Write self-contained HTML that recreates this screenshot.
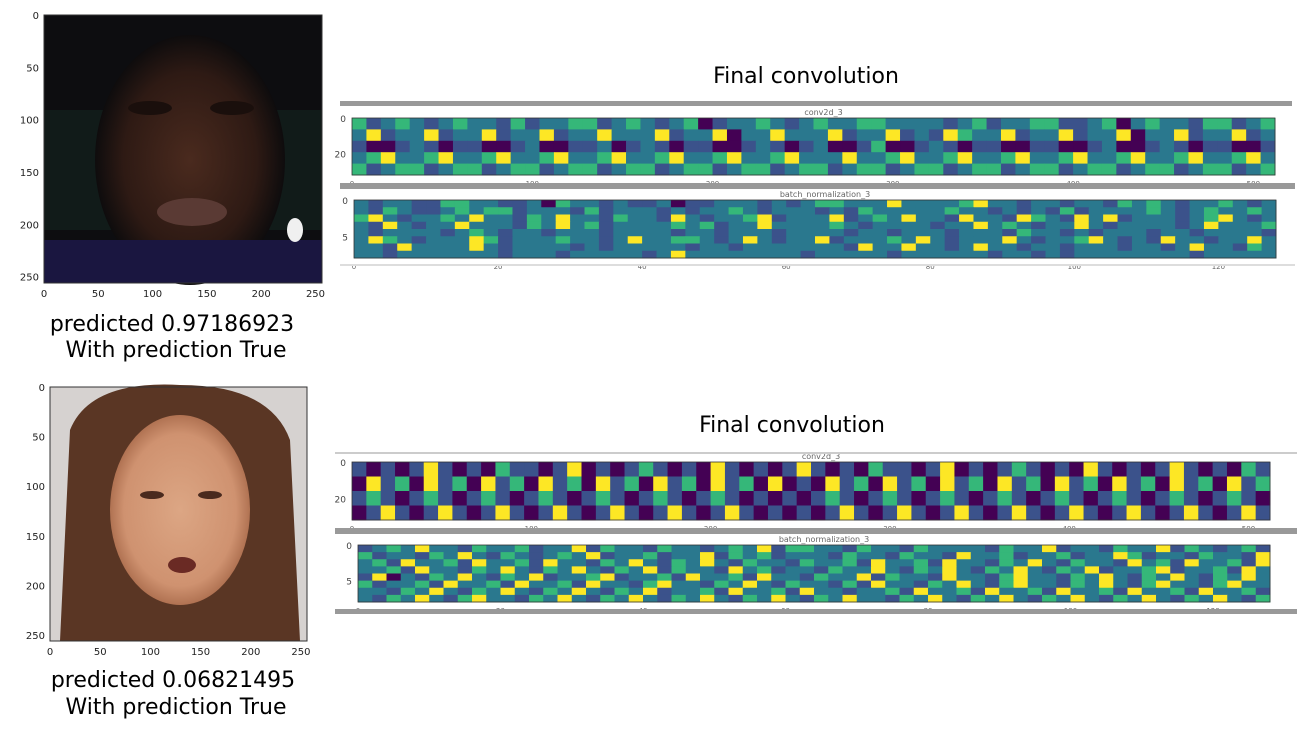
<!DOCTYPE html>
<html><head><meta charset="utf-8"><style>
body{margin:0;background:#fff;width:1312px;height:744px;overflow:hidden;font-family:"Liberation Sans","DejaVu Sans",sans-serif}
svg text{font-family:"DejaVu Sans","Liberation Sans",sans-serif}
</style></head><body>
<svg id="s" width="1312" height="744">
<defs>
<radialGradient id="f1" cx="0.5" cy="0.5" r="0.5"><stop offset="0" stop-color="#4a2a1e"/><stop offset="0.7" stop-color="#2e1a14"/><stop offset="1" stop-color="#0e0c0d"/></radialGradient>
<radialGradient id="f2" cx="0.5" cy="0.5" r="0.5"><stop offset="0" stop-color="#dca684"/><stop offset="0.8" stop-color="#cf9270"/><stop offset="1" stop-color="#b07252"/></radialGradient>
</defs>
<g>
<rect x="44" y="15" width="278" height="268" fill="#0d0d10"/>
<rect x="44" y="110" width="278" height="120" fill="#142420" opacity="0.6"/>
<ellipse cx="190" cy="160" rx="95" ry="125" fill="url(#f1)"/>
<rect x="44" y="240" width="278" height="43" fill="#1a1640"/>
<ellipse cx="150" cy="108" rx="22" ry="7" fill="#1a0f0c"/><ellipse cx="232" cy="108" rx="22" ry="7" fill="#1a0f0c"/>
<ellipse cx="192" cy="212" rx="35" ry="14" fill="#5a3a34"/>
<ellipse cx="295" cy="230" rx="8" ry="12" fill="#f0f0f0"/>
</g>
<rect x="44" y="15" width="278" height="268" fill="none" stroke="#333" stroke-width="1"/>
<g>
<rect x="50" y="387" width="257" height="254" fill="#d6d2d0"/>
<path d="M60 641 L70 430 Q90 380 180 385 Q270 385 290 440 L300 641 Z" fill="#5a3624"/>
<ellipse cx="180" cy="510" rx="70" ry="95" fill="url(#f2)"/>
<ellipse cx="152" cy="495" rx="12" ry="4" fill="#4a2a1e"/><ellipse cx="210" cy="495" rx="12" ry="4" fill="#4a2a1e"/>
<ellipse cx="182" cy="565" rx="14" ry="8" fill="#6a2a24"/>
</g>
<rect x="50" y="387" width="257" height="254" fill="none" stroke="#333" stroke-width="1"/>
<g id="ticks" font-size="10" fill="#222"></g>
<text x="172" y="331" font-size="22" text-anchor="middle">predicted 0.97186923</text>
<text x="176" y="357" font-size="22" text-anchor="middle">With prediction True</text>
<text x="173" y="687" font-size="22" text-anchor="middle">predicted 0.06821495</text>
<text x="176" y="714" font-size="22" text-anchor="middle">With prediction True</text>
<text x="806" y="83" font-size="22" text-anchor="middle">Final convolution</text>
<text x="792" y="432" font-size="22" text-anchor="middle">Final convolution</text>
<rect x="340" y="101" width="952" height="5" fill="#999"/>
<rect x="340" y="183" width="955" height="6" fill="#999"/>
<rect x="340" y="264" width="955" height="2" fill="#ddd"/>
<rect x="335" y="452" width="962" height="2" fill="#ccc"/>
<rect x="335" y="528" width="962" height="6" fill="#999"/>
<rect x="335" y="609" width="962" height="5" fill="#999"/>
<g id="maps"></g>
</svg>
<script>
const palette=["#440154","#3b528b","#2a788e","#35b779","#fde725"];
const convTop=[
"3123212322131223312321230122321232233222212312233112302322133123",
"2412241224122412242224122402242224122412143224122412240224122412",
"1001210110012001120121011001210120013001210110011001200121011001",
"2342234223422342234223422342234222422342234223422342234223422342",
"3123312331233123312331233123312331233123312331233123312331233123"];
const batchTop=[
"2122113322112032212112011222121233222422223422122122132321223212",
"2132112323312221312221212232122212132222232212121312222321232232",
"3421223242213242213221421223412224123242214221432142412221234212",
"2142122422213242312222323122422223212222122423212242122221242223",
"2122221232122122212222122122212222122122212221322121222122122221",
"2432122243122232212422332124212241222324212224212234212142212242",
"2214222242122221212222212212222222142242212422122122212212422132",
"2212222222122212222212422222222122222122222212212122222222122222"];
const convBot=[
"1010141010311014010131010410101410103110140101310104101014101031",
"0413041304130413041304130413040104130413041304130413041304130413",
"1310131013101310131013101310101013101310131013101310131013101310",
"0141014101410141014101410141010101410141014101410141014101410141"];
const batchBot=[
"1232422132231224132213221232413322132213222213224122132241321231",
"3122132421321232412231224132312221322132214223122312243122132214",
"2314223142231422132421324213221322314223142213242132214231422314",
"2231422132421324213241322142312213224213242132421324122341223142",
"1402132421324122341223142231422132241322142213422132421324213242",
"3122314223142231422134221324213221314221324213422132421342213422",
"2213242132421324213241223142231422122314223142231422314223142231",
"2132421342213242132421324213242132422132421324213242132421324213"];
const yTicksImg=["0","50","100","150","200","250"];
const xTicksImg=["0","50","100","150","200","250"];
const ns="http://www.w3.org/2000/svg";
const maps=document.getElementById('maps'), tk=document.getElementById('ticks');
function heat(rows,x,y,w,h,name){
  const g=document.createElementNS(ns,'g');
  
  
  const nr=rows.length,nc=rows[0].length,cw=w/nc,ch=h/nr;
  rows.forEach((r,i)=>{for(let j=0;j<nc;j++){
    const c=document.createElementNS(ns,'rect');
    c.setAttribute('x',x+j*cw);c.setAttribute('y',y+i*ch);
    c.setAttribute('width',cw+0.5);c.setAttribute('height',ch+0.5);
    c.setAttribute('fill',palette[+r[j]]);
    
    
    g.appendChild(c);}});
  const b=document.createElementNS(ns,'rect');
  b.setAttribute('x',x);b.setAttribute('y',y);b.setAttribute('width',w);b.setAttribute('height',h);
  b.setAttribute('fill','none');b.setAttribute('stroke','#333');b.setAttribute('stroke-width','0.8');
  g.appendChild(b);maps.appendChild(g);
}
function txt(x,y,s,anchor,size,fill){
  const t=document.createElementNS(ns,'text');
  t.setAttribute('x',x);t.setAttribute('y',y);t.setAttribute('text-anchor',anchor);
  t.setAttribute('font-size',size);t.setAttribute('fill',fill||'#222');t.textContent=s;
  
  
  tk.appendChild(t);
}
heat(convTop,352,118,923,57,'top-conv2d-map');
heat(batchTop,354,200,922,58,'top-batchnorm-map');
heat(convBot,352,462,918,58,'bottom-conv2d-map');
heat(batchBot,358,545,912,57,'bottom-batchnorm-map');
function imgTicks(x0,y0,w,h){
  yTicksImg.forEach((s,i)=>txt(x0-5,y0+i*(h/256*50)+4,s,'end',10));
  xTicksImg.forEach((s,i)=>txt(x0+i*(w/256*50),y0+h+14,s,'middle',10));
}
imgTicks(44,15,278,268);imgTicks(50,387,257,254);
function mapTicks(x,y,w,h,ymax,ylabs,xmax,xstep,title){
  ylabs.forEach(v=>txt(x-6,y+(v/ymax)*h+4,String(v),'end',9,'#444'));
  for(let v=0;v<=xmax;v+=xstep) txt(x+v/xmax*w,y+h+11,String(v),'middle',7,'#666');
  txt(x+w/2+10,y-3,title,'middle',8,'#666');
}
mapTicks(352,118,923,57,32,[0,20],512,100,'conv2d_3');
mapTicks(354,200,922,58,8,[0,5],128,20,'batch_normalization_3');
mapTicks(352,462,918,58,32,[0,20],512,100,'conv2d_3');
mapTicks(358,545,912,57,8,[0,5],128,20,'batch_normalization_3');
</script>
</body></html>
